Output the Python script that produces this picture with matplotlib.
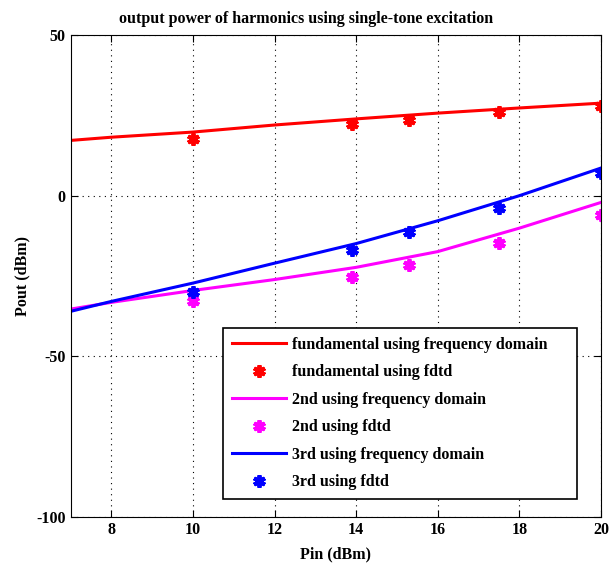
import numpy as np
import matplotlib.pyplot as plt

plt.rcParams['font.family'] = ['Liberation Serif', 'DejaVu Serif']
plt.rcParams['font.weight'] = 'bold'
plt.rcParams['axes.unicode_minus'] = False

# frequency-domain curves
pin_line = [7, 8, 10, 12, 14, 16, 18, 20]
fund_line = [17.2, 18.2, 19.8, 22.0, 23.9, 25.7, 27.3, 28.8]
second_line = [-35.3, -33.2, -29.5, -26.1, -22.3, -17.4, -10.1, -2.1]
third_line = [-36.0, -32.9, -27.2, -21.0, -14.9, -7.8, 0.0, 8.6]

# fdtd points
pin_fdtd = [10, 13.9, 15.3, 17.5, 20]
fund_fdtd = [17.6, 22.4, 23.7, 25.9, 27.8]
second_fdtd = [-32.9, -25.4, -21.5, -14.7, -5.9]
third_fdtd = [-30.1, -17.0, -11.3, -3.8, 7.1]

fig = plt.figure(figsize=(6.14, 5.65), dpi=100)
ax = fig.add_axes([0.1151, 0.085, 0.8637, 0.853])

star = (6, 2, 0)
ax.plot(pin_line, fund_line, color='red', lw=2.2, label='fundamental using frequency domain')
ax.plot(pin_fdtd, fund_fdtd, ls='none', marker=star, ms=9, mew=2.8, color='red',
        label='fundamental using fdtd')
ax.plot(pin_line, second_line, color='magenta', lw=2.2, label='2nd using frequency domain')
ax.plot(pin_fdtd, second_fdtd, ls='none', marker=star, ms=9, mew=2.8, color='magenta',
        label='2nd using fdtd')
ax.plot(pin_line, third_line, color='blue', lw=2.2, label='3rd using frequency domain')
ax.plot(pin_fdtd, third_fdtd, ls='none', marker=star, ms=9, mew=2.8, color='blue',
        label='3rd using fdtd')

ax.set_xlim(7, 20)
ax.set_ylim(-100, 50)
ax.set_xticks([8, 10, 12, 14, 16, 18, 20])
ax.set_yticks([-100, -50, 0, 50])
ax.grid(True, color='black', ls=(0, (1, 4)), lw=0.8)
ax.tick_params(direction='in', top=True, right=True, length=5, labelsize=11.5)
for lab in ax.get_xticklabels() + ax.get_yticklabels():
    lab.set_fontweight('bold')

ax.set_title('output power of harmonics using single-tone excitation',
             fontsize=11.5, fontweight='bold', pad=9, x=0.444)
ax.set_xlabel('Pin (dBm)', fontsize=11.5, fontweight='bold', labelpad=6)
ax.set_ylabel('Pout (dBm)', fontsize=11.5, fontweight='bold', labelpad=4)

# matlab-style legend box: text left aligned, extra room on the right
leg = ax.legend(loc='lower left', bbox_to_anchor=(0.2872, 0.037, 0.6675, 0.357),
                mode='expand', borderaxespad=0,
                fontsize=11.5, handlelength=3.4, handletextpad=0.35,
                labelspacing=0.72, borderpad=0.55,
                fancybox=False, framealpha=1, edgecolor='black')
leg.get_frame().set_linewidth(1.2)

fig.savefig('out.png', dpi=100)
